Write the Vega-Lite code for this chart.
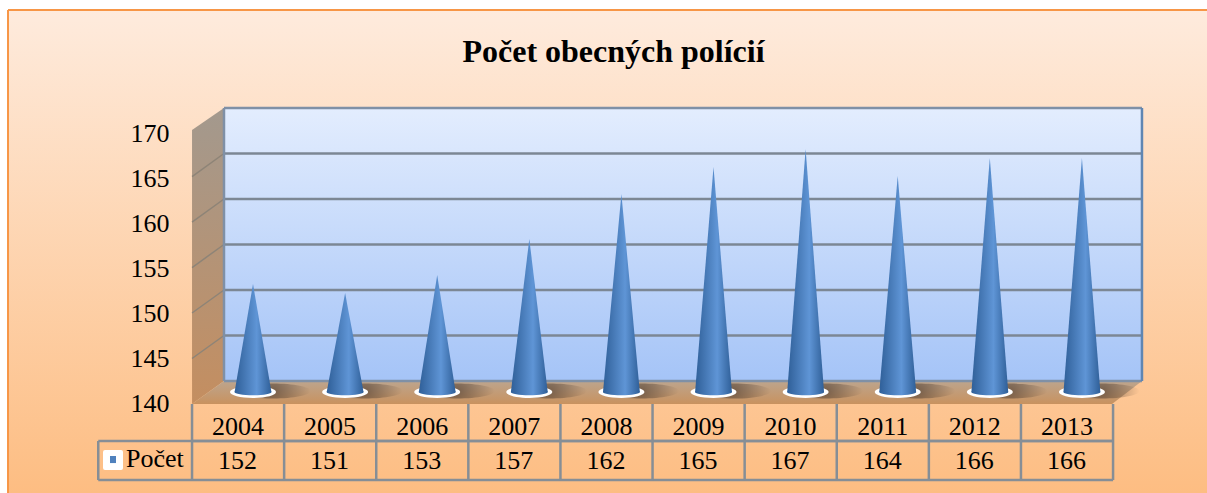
{"$schema":"https://vega.github.io/schema/vega-lite/v6.json","width":1207,"height":493,"padding":0,"autosize":"none","background":"white","config":{"view":{"stroke":null},"font":"Liberation Serif"},
"title":{"text":"Počet obecných polícií","font":"Liberation Serif","fontSize":32,"fontWeight":"bold","color":"black","anchor":"middle","offset":0,"dy":69,"dx":10},
"datasets":{
"tabulka":[{"rok":2004,"pocet":152},{"rok":2005,"pocet":151},{"rok":2006,"pocet":153},{"rok":2007,"pocet":157},{"rok":2008,"pocet":162},{"rok":2009,"pocet":165},{"rok":2010,"pocet":167},{"rok":2011,"pocet":164},{"rok":2012,"pocet":166},{"rok":2013,"pocet":166}],
"kuzele":[{"k":2004,"rok":2003.8,"h":140},{"k":2004,"rok":2004,"h":152},{"k":2004,"rok":2004.2,"h":140},{"k":2005,"rok":2004.8,"h":140},{"k":2005,"rok":2005,"h":151},{"k":2005,"rok":2005.2,"h":140},{"k":2006,"rok":2005.8,"h":140},{"k":2006,"rok":2006,"h":153},{"k":2006,"rok":2006.2,"h":140},{"k":2007,"rok":2006.8,"h":140},{"k":2007,"rok":2007,"h":157},{"k":2007,"rok":2007.2,"h":140},{"k":2008,"rok":2007.8,"h":140},{"k":2008,"rok":2008,"h":162},{"k":2008,"rok":2008.2,"h":140},{"k":2009,"rok":2008.8,"h":140},{"k":2009,"rok":2009,"h":165},{"k":2009,"rok":2009.2,"h":140},{"k":2010,"rok":2009.8,"h":140},{"k":2010,"rok":2010,"h":167},{"k":2010,"rok":2010.2,"h":140},{"k":2011,"rok":2010.8,"h":140},{"k":2011,"rok":2011,"h":164},{"k":2011,"rok":2011.2,"h":140},{"k":2012,"rok":2011.8,"h":140},{"k":2012,"rok":2012,"h":166},{"k":2012,"rok":2012.2,"h":140},{"k":2013,"rok":2012.8,"h":140},{"k":2013,"rok":2013,"h":166},{"k":2013,"rok":2013.2,"h":140}],
"mrizka":[{"rok":2003.685,"rok2":2013.652,"y":145,"y2":145},{"rok":2003.685,"rok2":2013.652,"y":150,"y2":150},{"rok":2003.685,"rok2":2013.652,"y":155,"y2":155},{"rok":2003.685,"rok2":2013.652,"y":160,"y2":160},{"rok":2003.685,"rok2":2013.652,"y":165,"y2":165}],
"bocni":[{"rok":2003.685,"rok2":2003.338,"y":145,"y2":142.47},{"rok":2003.685,"rok2":2003.338,"y":150,"y2":147.47},{"rok":2003.685,"rok2":2003.338,"y":155,"y2":152.47},{"rok":2003.685,"rok2":2003.338,"y":160,"y2":157.47},{"rok":2003.685,"rok2":2003.338,"y":165,"y2":162.47}],
"tabulkaCary":[{"rok":2003.338,"rok2":2013.338,"y":134.56,"y2":134.56},{"rok":2002.32,"rok2":2013.338,"y":134.56,"y2":134.56},{"rok":2002.32,"rok2":2013.338,"y":130.22,"y2":130.22},{"rok":2002.32,"rok2":2002.32,"y":134.56,"y2":130.22},{"rok":2003.338,"rok2":2003.338,"y":138.67,"y2":130.22},{"rok":2004.338,"rok2":2004.338,"y":138.67,"y2":130.22},{"rok":2005.338,"rok2":2005.338,"y":138.67,"y2":130.22},{"rok":2006.338,"rok2":2006.338,"y":138.67,"y2":130.22},{"rok":2007.338,"rok2":2007.338,"y":138.67,"y2":130.22},{"rok":2008.338,"rok2":2008.338,"y":138.67,"y2":130.22},{"rok":2009.338,"rok2":2009.338,"y":138.67,"y2":130.22},{"rok":2010.338,"rok2":2010.338,"y":138.67,"y2":130.22},{"rok":2011.338,"rok2":2011.338,"y":138.67,"y2":130.22},{"rok":2012.338,"rok2":2012.338,"y":138.67,"y2":130.22},{"rok":2013.338,"rok2":2013.338,"y":138.67,"y2":130.22}]
},
"encoding":{"x":{"field":"rok","type":"quantitative","scale":{"domain":[2001.253,2014.358],"nice":false,"zero":false},"axis":{"title":null,"values":[2004,2005,2006,2007,2008,2009,2010,2011,2012,2013],"format":"d","domain":false,"ticks":false,"grid":false,"labelFont":"Liberation Serif","labelFontSize":26,"labelColor":"black","labelPadding":-67,"labelBaseline":"middle","labelOffset":-15.5,"labelFlush":false,"labelBound":false,"labelOverlap":false,"zindex":2}}},
"layer":[
{"layer":[
{"data":{"values":[{"rok":2001.34,"rok2":2014.358,"y":180.77,"y2":127.69}]},"mark":{"type":"rect","fill":{"gradient":"linear","x1":0,"y1":0,"x2":0,"y2":1,"stops":[{"offset":0,"color":"#FEEBDD"},{"offset":1,"color":"#FDBD82"}]}},"encoding":{"x2":{"field":"rok2"},"y":{"field":"y","type":"quantitative","axis":null,"scale":{"domain":[127.69,181.87],"nice":false,"zero":false}},"y2":{"field":"y2"}}},
{"data":{"values":[{"rok":2001.34,"rok2":2014.358,"y":180.77,"y2":180.77},{"rok":2001.34,"rok2":2001.34,"y":180.77,"y2":127.69}]},"mark":{"type":"rule","color":"#F79646","strokeWidth":2},"encoding":{"x2":{"field":"rok2"},"y":{"field":"y","type":"quantitative","axis":null,"scale":{"domain":[127.69,181.87],"nice":false,"zero":false}},"y2":{"field":"y2"}}},
{"data":{"values":[{"rok":2003.338,"y":167.58,"y2":137.47},{"rok":2003.685,"y":170,"y2":140}]},"mark":{"type":"area","fill":{"gradient":"linear","x1":0,"y1":0,"x2":0,"y2":1,"stops":[{"offset":0,"color":"#A3998E"},{"offset":1,"color":"#C48E60"}]}},"encoding":{"y":{"field":"y","type":"quantitative","axis":null,"scale":{"domain":[127.69,181.87],"nice":false,"zero":false}},"y2":{"field":"y2"}}},
{"data":{"name":"bocni"},"mark":{"type":"rule","color":"#8E8477","strokeWidth":1.5},"encoding":{"x2":{"field":"rok2"},"y":{"field":"y","type":"quantitative","axis":null,"scale":{"domain":[127.69,181.87],"nice":false,"zero":false}},"y2":{"field":"y2"}}},
{"data":{"values":[{"rok":2003.685,"rok2":2013.652,"y":170,"y2":140}]},"mark":{"type":"rect","fill":{"gradient":"linear","x1":0,"y1":0,"x2":0,"y2":1,"stops":[{"offset":0,"color":"#E3EDFE"},{"offset":1,"color":"#A5C4F7"}]}},"encoding":{"x2":{"field":"rok2"},"y":{"field":"y","type":"quantitative","axis":null,"scale":{"domain":[127.69,181.87],"nice":false,"zero":false}},"y2":{"field":"y2"}}},
{"data":{"values":[{"rok":2003.338,"y":137.47,"y2":137.47},{"rok":2003.685,"y":140,"y2":137.47},{"rok":2013.327,"y":140,"y2":137.47},{"rok":2013.652,"y":140,"y2":140}]},"mark":{"type":"area","fill":{"gradient":"linear","x1":0,"y1":0,"x2":0,"y2":1,"stops":[{"offset":0,"color":"#BDA58E"},{"offset":1,"color":"#C8925F"}]}},"encoding":{"y":{"field":"y","type":"quantitative","axis":null,"scale":{"domain":[127.69,181.87],"nice":false,"zero":false}},"y2":{"field":"y2"}}},
{"data":{"name":"mrizka"},"mark":{"type":"rule","color":"#7C8794","strokeWidth":2.5},"encoding":{"x2":{"field":"rok2"},"y":{"field":"y","type":"quantitative","axis":null,"scale":{"domain":[127.69,181.87],"nice":false,"zero":false}},"y2":{"field":"y2"}}},
{"data":{"values":[{"rok":2003.685,"rok2":2013.652,"y":170,"y2":170},{"rok":2003.685,"rok2":2003.685,"y":170,"y2":140},{"rok":2003.685,"rok2":2013.652,"y":140,"y2":140}]},"mark":{"type":"rule","color":"#7F90A6","strokeWidth":2.5},"encoding":{"x2":{"field":"rok2"},"y":{"field":"y","type":"quantitative","axis":null,"scale":{"domain":[127.69,181.87],"nice":false,"zero":false}},"y2":{"field":"y2"}}},
{"data":{"values":[{"rok":2013.652,"rok2":2013.652,"y":170,"y2":140}]},"mark":{"type":"rule","color":"#5F86B3","strokeWidth":2.5},"encoding":{"x2":{"field":"rok2"},"y":{"field":"y","type":"quantitative","axis":null,"scale":{"domain":[127.69,181.87],"nice":false,"zero":false}},"y2":{"field":"y2"}}}
]},
{"layer":[
{"data":{"name":"tabulka"},"mark":{"type":"point","filled":true,"opacity":1,"xOffset":20,"yOffset":-1,"size":5625,"shape":"M-1,0 A1,0.2 0 1 0 1,0 A1,0.2 0 1 0 -1,0 Z","fill":{"gradient":"radial","stops":[{"offset":0,"color":"rgba(70,55,45,0.6)"},{"offset":1,"color":"rgba(70,55,45,0)"}]}},"encoding":{"y":{"datum":140,"type":"quantitative","axis":{"title":null,"values":[140,145,150,155,160,165,170],"domain":false,"ticks":false,"grid":false,"labelFont":"Liberation Serif","labelFontSize":26,"labelColor":"black","labelPadding":-169,"labelOffset":11,"labelBaseline":"middle","labelFlush":false,"labelBound":false,"zindex":2},"scale":{"domain":[128.78,183.56],"nice":false,"zero":false}}}},
{"data":{"name":"tabulka"},"mark":{"type":"point","filled":true,"opacity":1,"fill":"white","size":2116,"shape":"M-1,0 A1,0.26 0 1 0 1,0 A1,0.26 0 1 0 -1,0 Z"},"encoding":{"y":{"datum":140,"type":"quantitative","scale":{"domain":[128.78,183.56],"nice":false,"zero":false}}}},
{"data":{"name":"tabulka"},"mark":{"type":"point","filled":true,"opacity":1,"size":1369,"shape":"M-1,0 A1,0.18 0 1 0 1,0 A1,0.18 0 1 0 -1,0 Z","fill":{"gradient":"linear","x1":0,"y1":0,"x2":1,"y2":0,"stops":[{"offset":0,"color":"#2F5F98"},{"offset":0.6,"color":"#5F95D6"},{"offset":1,"color":"#2F5F98"}]}},"encoding":{"y":{"datum":140,"type":"quantitative","scale":{"domain":[128.78,183.56],"nice":false,"zero":false}}}},
{"data":{"name":"kuzele"},"mark":{"type":"area","interpolate":"linear","fill":{"gradient":"linear","x1":0,"y1":0,"x2":1,"y2":0,"stops":[{"offset":0,"color":"#2F5F98"},{"offset":0.6,"color":"#5F95D6"},{"offset":1,"color":"#2F5F98"}]}},"encoding":{"y":{"field":"h","type":"quantitative","scale":{"domain":[128.78,183.56],"nice":false,"zero":false}},"y2":{"datum":140},"detail":{"field":"k"}}},
{"data":{"name":"tabulkaCary"},"mark":{"type":"rule","color":"#868E96","strokeWidth":2.5},"encoding":{"x2":{"field":"rok2"},"y":{"field":"y","type":"quantitative","scale":{"domain":[128.78,183.56],"nice":false,"zero":false}},"y2":{"field":"y2"}}},
{"data":{"name":"tabulka"},"mark":{"type":"text","font":"Liberation Serif","fontSize":26,"color":"black","dx":-15.5,"baseline":"middle"},"encoding":{"text":{"field":"pocet","type":"quantitative"},"y":{"datum":132.33,"type":"quantitative","scale":{"domain":[128.78,183.56],"nice":false,"zero":false}}}},
{"data":{"values":[{"rok":2002.48}]},"mark":{"type":"point","filled":true,"opacity":1,"shape":"square","size":256,"fill":"white","stroke":"white","strokeWidth":4,"strokeJoin":"round"},"encoding":{"y":{"datum":132.44,"type":"quantitative","scale":{"domain":[128.78,183.56],"nice":false,"zero":false}}}},
{"data":{"values":[{"rok":2002.48,"rada":"Počet"}]},"mark":{"type":"point","filled":true,"opacity":1,"shape":"square","size":36},"encoding":{"y":{"datum":132.44,"type":"quantitative","scale":{"domain":[128.78,183.56],"nice":false,"zero":false}},"color":{"field":"rada","type":"nominal","scale":{"range":["#4F81BD"]},"legend":{"orient":"none","legendX":100,"legendY":446,"title":null,"symbolType":"square","symbolSize":36,"labelFont":"Liberation Serif","labelFontSize":26,"labelColor":"black","labelOffset":0,"padding":0,"symbolOpacity":1}}}}
]}
],
"resolve":{"scale":{"y":"independent"}}}
